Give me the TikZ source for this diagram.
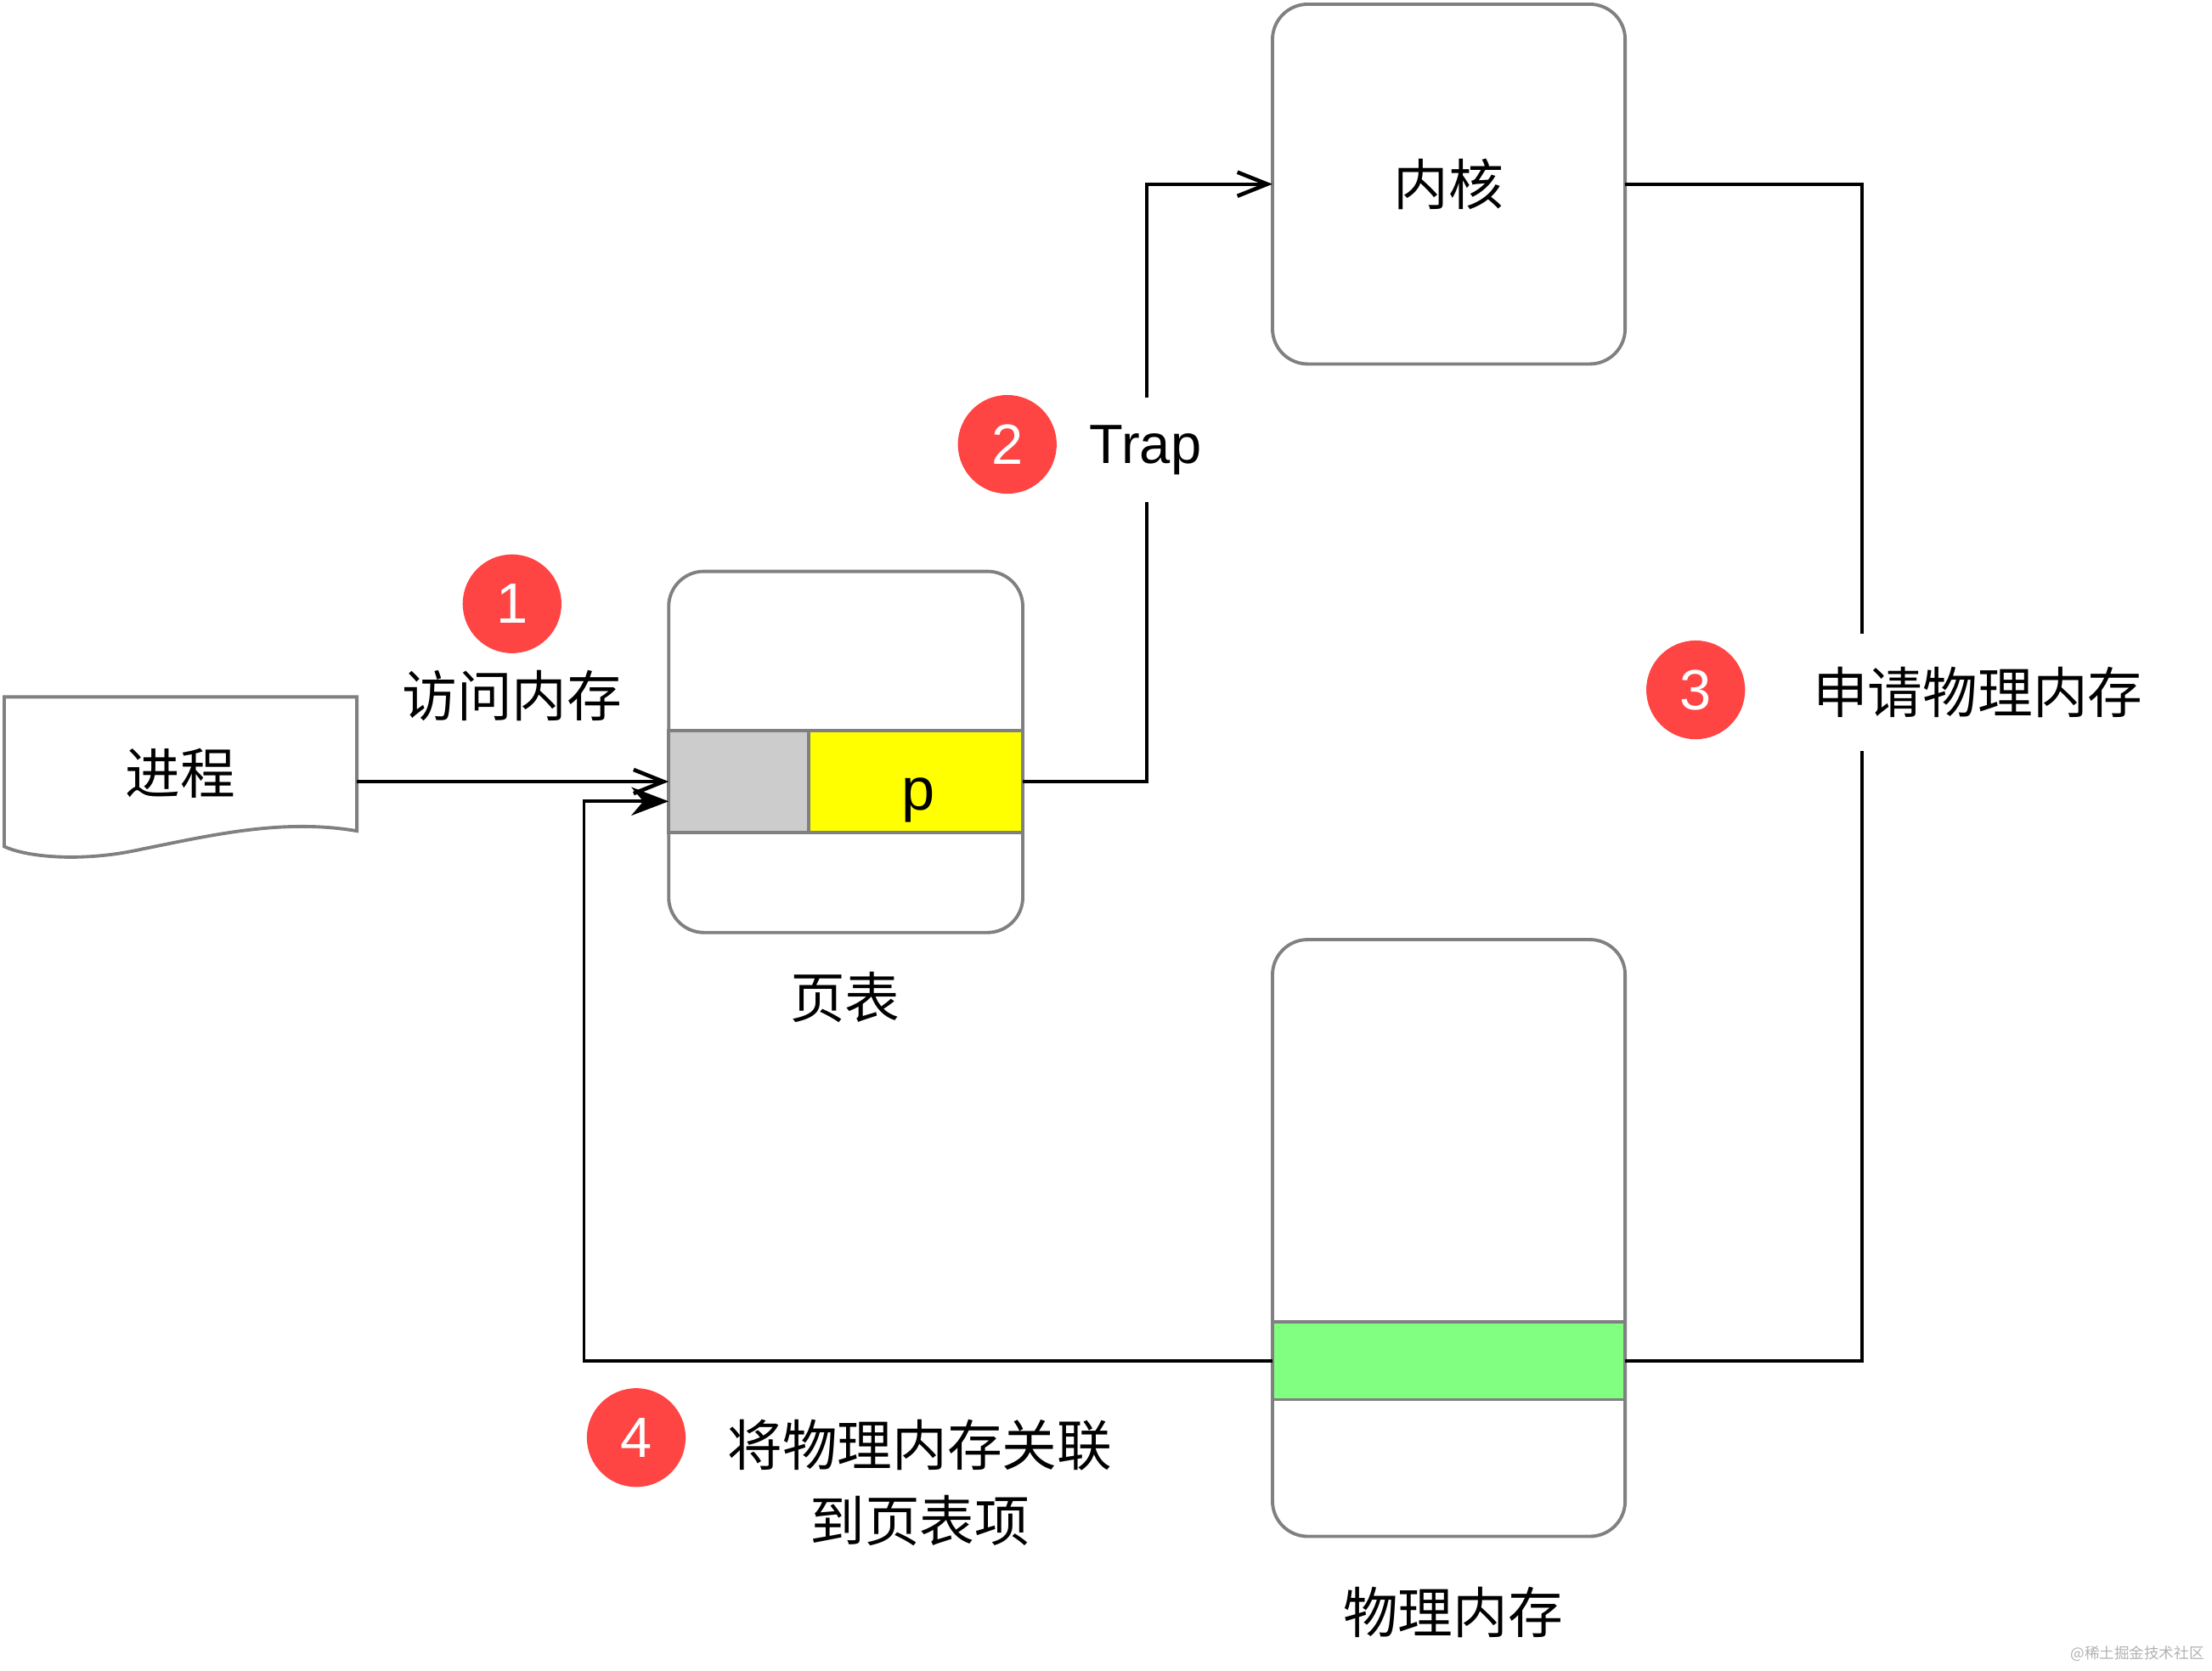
\documentclass[tikz,border=0pt]{standalone}
\usepackage{fontspec}
\setmainfont{Liberation Sans}
\newfontfamily\cjk{Noto Sans CJK SC}
\usetikzlibrary{arrows.meta}
\definecolor{boxgray}{HTML}{808080}
\definecolor{badgered}{HTML}{FF4444}
\definecolor{cellgray}{HTML}{CCCCCC}
\definecolor{memgreen}{HTML}{80FF80}
\definecolor{cellyellow}{HTML}{FFFF00}
\def\pxu{0.016607cm}
\begin{document}
\begin{tikzpicture}[x=0.016607cm,y=-0.016607cm,
  every node/.style={inner sep=0pt, outer sep=0pt},
  boxline/.style={draw=boxgray, line width=1.1pt},
  membox/.style={boxline, fill=white, rounded corners=25*\pxu},
  cellbox/.style={boxline, rectangle},
  conn/.style={line width=1.1pt, draw=black},
  tip/.style={-{Straight Barb[length=10pt,width=8pt,line width=1.3pt]}},
  filltip/.style={-{Stealth[length=12.5pt,width=9.5pt,inset=4pt]}},
  zh/.style={font=\cjk\fontsize{18.4}{22}\selectfont},
  badge/.style={circle, fill=badgered, text=white, minimum size=70*\pxu, font=\fontsize{19}{22}\selectfont},
  lbl/.style={fill=white}
]
\useasboundingbox (0,0) rectangle (1568,1184);
\fill[white] (0,0) rectangle (1568,1184);

% process (document shape)
\draw[boxline, fill=white] (3,494) -- (253,494) -- (253,589)
  .. controls (200,580) and (150,592) .. (100,602)
  .. controls (60,611) and (20,608) .. (3,600) -- cycle;
\node[zh, minimum width=250*\pxu, minimum height=108*\pxu] (proc) at (128,548) {进程};

% page table
\node[membox, minimum width=251*\pxu, minimum height=256*\pxu] (pt) at (599.5,533) {};
\node[cellbox, fill=cellgray, minimum width=99*\pxu, minimum height=72*\pxu] (gcell) at (523.5,554) {};
\node[cellbox, fill=cellyellow, minimum width=152*\pxu, minimum height=72*\pxu] (ycell) at (649,554) {};
\node[anchor=base, font=\fontsize{20}{22}\selectfont] (ptxt) at (651,574) {p};
\node[zh] (ptlabel) at (599,707) {页表};

% kernel
\node[membox, minimum width=250*\pxu, minimum height=255*\pxu, zh] (kernel) at (1027,130.5) {内核};

% physical memory
\node[membox, minimum width=250*\pxu, minimum height=423*\pxu] (phys) at (1027,877.5) {};
\node[cellbox, fill=memgreen, minimum width=250*\pxu, minimum height=55*\pxu] (green) at (1027,964.5) {};
\node[zh] (physlabel) at (1030,1143) {物理内存};

% connectors
\coordinate (j2) at (813,130.5);
\coordinate (j3) at (1320,964.5);
\coordinate (j4) at (414,568);
\draw[conn, tip] (proc.east |- gcell.west) -- (gcell.west);
\draw[conn, tip] (ycell.east) -- (ycell.east -| j2) -- (j2) -- (kernel.west);
\draw[conn] (kernel.east) -| (j3) -- (green.east);
\draw[conn, filltip] (green.west) -| (j4) -- (j4 -| gcell.west);

% labels
\node[badge] (b1) at (363,428) {1};
\node[zh] (l1) at (363,493) {访问内存};
\node[badge] (b2) at (714,315) {2};
\node[lbl, minimum height=74*\pxu, inner xsep=2pt, font=\fontsize{18.5}{22}\selectfont] (l2) at (812,319) {Trap};
\node[badge] (b3) at (1202,489) {3};
\node[lbl, zh, minimum height=83*\pxu, inner xsep=2pt] (l3) at (1402,491) {申请物理内存};
\node[badge] (b4) at (451,1019) {4};
\node[zh, align=center, font=\cjk\fontsize{18.4}{25.5}\selectfont] (l4) at (652,1051) {将物理内存关联\\到页表项};

% watermark
\node[text=black!30, font=\cjk\fontsize{5}{6}\selectfont] (wm) at (1515,1172) {@稀土掘金技术社区};
\end{tikzpicture}
\end{document}
